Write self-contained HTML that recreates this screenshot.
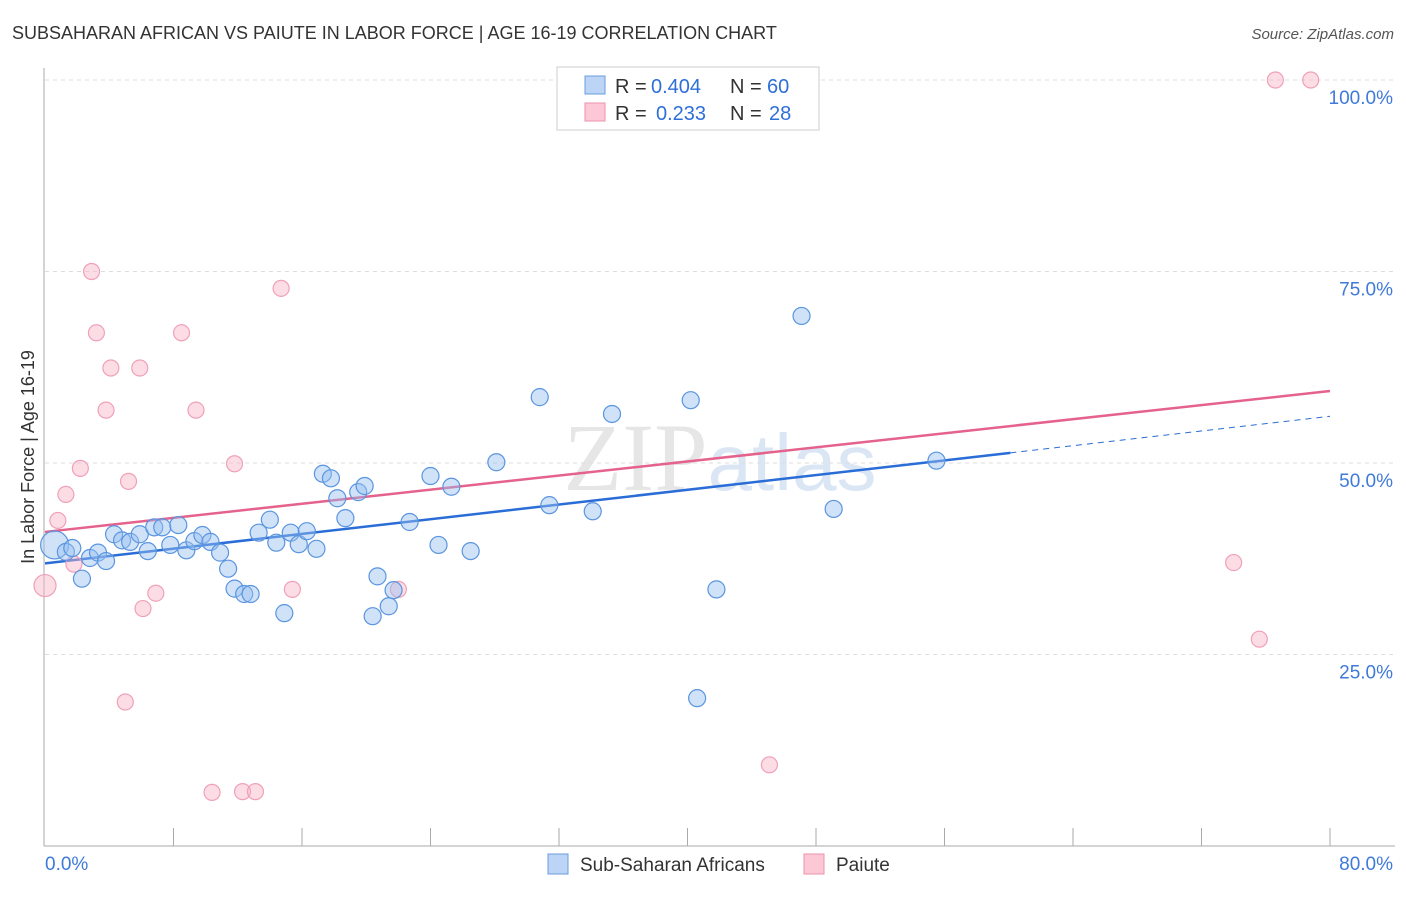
<!DOCTYPE html>
<html><head><meta charset="utf-8"><style>
body{margin:0;background:#fff;font-family:"Liberation Sans",sans-serif;}
</style></head><body>
<svg width="1406" height="892" viewBox="0 0 1406 892" xmlns="http://www.w3.org/2000/svg">
<text x="12" y="39" font-size="18" fill="#333">SUBSAHARAN AFRICAN VS PAIUTE IN LABOR FORCE | AGE 16-19 CORRELATION CHART</text>
<text x="1394" y="39" font-size="15" fill="#555" font-style="italic" text-anchor="end">Source: ZipAtlas.com</text>
<text x="720" y="490" font-size="96" fill="#e6e6e6" text-anchor="middle" font-family="Liberation Serif,serif">ZIP<tspan fill="#dbe6f5" font-family="Liberation Sans,sans-serif" font-size="80">atlas</tspan></text>
<g id="grid"></g><g id="axes"></g><g id="lines"></g><g id="pts"></g>
<text transform="translate(34,457) rotate(-90)" font-size="18" fill="#333" text-anchor="middle">In Labor Force | Age 16-19</text>
<g>
<rect x="557" y="67" width="262" height="63" fill="#fff" stroke="#ccc"/>
<rect x="585" y="76" width="20" height="18" fill="#bcd4f5" stroke="#6a9de0"/>
<rect x="585" y="103" width="20" height="18" fill="#fcc8d6" stroke="#ee92ad"/>
<text y="93" font-size="20" fill="#333"><tspan x="615">R =</tspan><tspan x="651" fill="#2e6fd8">0.404</tspan><tspan x="730">N =</tspan><tspan x="767" fill="#2e6fd8">60</tspan></text>
<text y="120" font-size="20" fill="#333"><tspan x="615">R =</tspan><tspan x="656" fill="#2e6fd8">0.233</tspan><tspan x="730">N =</tspan><tspan x="769" fill="#2e6fd8">28</tspan></text>
</g>
<g>
<rect x="548" y="854" width="20" height="20" fill="#bcd4f5" stroke="#6a9de0"/>
<text x="580" y="871" font-size="19" fill="#333">Sub-Saharan Africans</text>
<rect x="804" y="854" width="20" height="20" fill="#fcc8d6" stroke="#ee92ad"/>
<text x="836" y="871" font-size="19" fill="#333">Paiute</text>
</g>
</svg>
<script>
const yTicks=[25,50,75,100];
const yTickLabels=["25.0%","50.0%","75.0%","100.0%"];
const blueX=[0.6,1.3,1.7,2.3,2.8,3.3,3.8,4.3,4.8,5.3,5.9,6.4,6.8,7.3,7.8,8.3,8.8,9.3,9.8,10.3,10.9,11.4,11.8,12.4,12.8,13.3,14.0,14.4,14.9,15.3,15.8,16.3,16.9,17.3,17.8,18.2,18.7,19.5,19.9,20.4,20.7,21.4,21.7,22.7,24.0,24.5,25.3,26.5,28.1,30.8,31.4,34.1,35.3,40.2,40.6,41.8,47.1,49.1,55.5];
const blueY=[39.3,38.4,38.9,34.9,37.6,38.3,37.2,40.7,39.9,39.7,40.7,38.5,41.6,41.6,39.3,41.9,38.6,39.8,40.6,39.7,38.3,36.2,33.6,32.9,32.9,40.9,42.6,39.6,30.4,40.9,39.4,41.1,38.8,48.6,48.0,45.4,42.8,46.2,47.0,30.0,35.2,31.3,33.4,42.3,48.3,39.3,46.9,38.5,50.1,58.6,44.5,43.7,56.4,58.2,19.3,33.5,69.2,44.0,50.3];
const pinkX=[0,0.8,1.3,1.8,2.2,2.9,3.2,3.8,4.1,5.2,5.9,6.1,5.0,6.9,8.5,9.4,10.4,11.8,12.3,13.1,14.7,15.4,22.0,45.1,74.0,75.6,76.6,78.8];
const pinkY=[34.0,42.5,45.9,36.8,49.3,75.0,67.0,56.9,62.4,47.6,62.4,31.0,18.8,33.0,67.0,56.9,7.0,49.9,7.1,7.1,72.8,33.5,33.5,10.6,37.0,27.0,100,100];
const blueFit=[36.9,56.1], pinkFit=[41.0,59.4], blueSolidEnd=60.1;
const NS="http://www.w3.org/2000/svg";
const X=v=>45+v/80*1285, Y=v=>846-v*7.66;
function mk(p,t,a){const e=document.createElementNS(NS,t);for(const k in a)e.setAttribute(k,a[k]);document.getElementById(p).appendChild(e);return e;}
yTicks.forEach((t,i)=>{
 let l=mk('grid','line',{x1:45,x2:1395,y1:Y(t),y2:Y(t),stroke:'#ddd','stroke-dasharray':'4,4'});
 
 
 let tx=mk('grid','text',{x:1393,y:Y(t)+24,'font-size':19,fill:'#3f7ad9','text-anchor':'end'});
 tx.textContent=yTickLabels[i];
 
 
});
let ax=mk('axes','line',{x1:44,x2:44,y1:68,y2:846,stroke:'#aaa'});


let bx=mk('axes','line',{x1:44,x2:1395,y1:846,y2:846,stroke:'#aaa'});


for(let i=1;i<=10;i++){let t=mk('axes','line',{x1:X(i*8),x2:X(i*8),y1:828,y2:846,stroke:'#aaa'});
 
 }
let xl=mk('axes','text',{x:45,y:870,'font-size':19,fill:'#3f7ad9'});xl.textContent='0.0%';


let xr=mk('axes','text',{x:1393,y:870,'font-size':19,fill:'#3f7ad9','text-anchor':'end'});xr.textContent='80.0%';


pinkX.forEach((x,i)=>{let c=mk('pts','circle',{cx:X(x),cy:Y(pinkY[i]),r:(i==0?11:8),fill:'rgba(248,180,200,0.45)',stroke:'#f0a0b8','stroke-width':1.2});
 
 });
blueX.forEach((x,i)=>{let c=mk('pts','circle',{cx:X(x),cy:Y(blueY[i]),r:(i==0?14:8.5),fill:'rgba(150,190,240,0.45)',stroke:'#5a95e0','stroke-width':1.2});
 
 });
const bf=x=>blueFit[0]+(blueFit[1]-blueFit[0])*x/80;
let l1=mk('lines','line',{x1:X(0),y1:Y(bf(0)),x2:X(blueSolidEnd),y2:Y(bf(blueSolidEnd)),stroke:'#2a6dd6','stroke-width':2.5});


let l2=mk('lines','line',{x1:X(blueSolidEnd),y1:Y(bf(blueSolidEnd)),x2:X(80),y2:Y(bf(80)),stroke:'#2a6dd6','stroke-width':1,'stroke-dasharray':'6,5'});


let l3=mk('lines','line',{x1:X(0),y1:Y(pinkFit[0]),x2:X(80),y2:Y(pinkFit[1]),stroke:'#e4628c','stroke-width':2.5});


</script>
</body></html>
